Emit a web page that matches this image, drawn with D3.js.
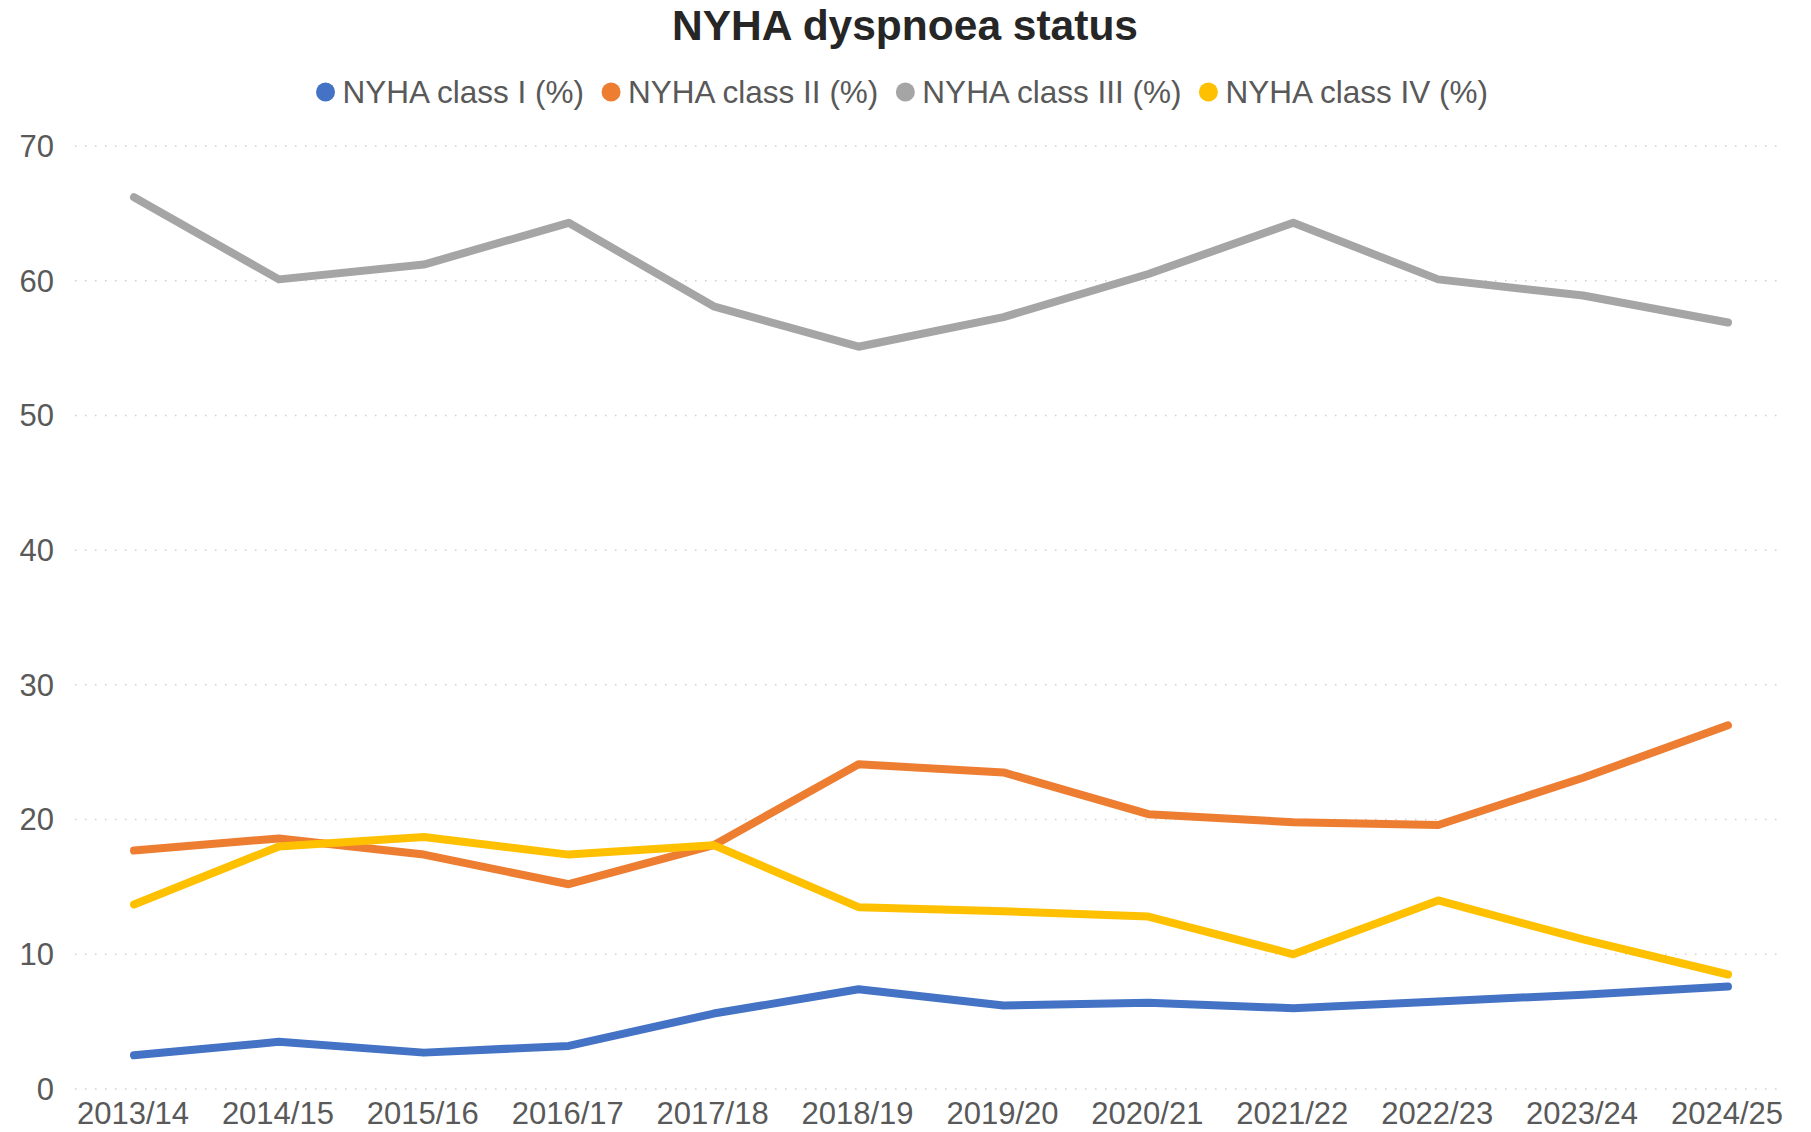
<!DOCTYPE html>
<html>
<head>
<meta charset="utf-8">
<script src="https://cdn.jsdelivr.net/npm/d3@7"></script>
<style>
  body { margin: 0; background: #fff; }
  text { font-family: Arial, "Liberation Sans", sans-serif; }
</style>
</head>
<body>
<svg></svg>
<script>
const size = {w: 1811, h: 1132};
const svg = d3.select('svg').attr('width', size.w).attr('height', size.h);

// chart values
const years = ['2013/14', '2014/15', '2015/16', '2016/17', '2017/18', '2018/19',
               '2019/20', '2020/21', '2021/22', '2022/23', '2023/24', '2024/25'];
const classI   = [2.5, 3.5, 2.7, 3.2, 5.6, 7.4, 6.2, 6.4, 6.0, 6.5, 7.0, 7.6];
const classII  = [17.7, 18.6, 17.4, 15.2, 18.1, 24.1, 23.5, 20.4, 19.8, 19.6, 23.1, 27.0];
const classIII = [66.2, 60.1, 61.2, 64.3, 58.1, 55.1, 57.3, 60.5, 64.3, 60.1, 58.9, 56.9];
const classIV  = [13.7, 18.0, 18.7, 17.4, 18.1, 13.5, 13.2, 12.8, 10.0, 14.0, 11.1, 8.5];
const yTicks = [0, 10, 20, 30, 40, 50, 60, 70];

const seriesNames = ['NYHA class I (%)', 'NYHA class II (%)', 'NYHA class III (%)', 'NYHA class IV (%)'];
const seriesColors = ['#4472C4', '#ED7D31', '#A5A5A5', '#FFC000'];
const series = [classI, classII, classIII, classIV].map((vals, i) => ({
    name: seriesNames[i], color: seriesColors[i], values: vals
}));

// plot area
const plot = {l: 75, r: 1777, t: 146, b: 1089};

const x = d3.scalePoint()
    .domain(years)
    .range([134, 1728]);

const y = d3.scaleLinear()
    .domain([0, 70])
    .range([plot.b, plot.t]);

// gridlines
svg.append('g').classed('grid', true)
    .selectAll('line')
    .data(yTicks)
    .join('line')
    .attr('x1', plot.l)
    .attr('x2', plot.r)
    .attr('y1', d => y(d))
    .attr('y2', d => y(d))
    .attr('stroke', '#d0d0d0')
    .attr('stroke-width', 1.5)
    .attr('stroke-dasharray', '1.5,8.5');

// y axis labels
svg.append('g').classed('y-axis', true)
    .selectAll('text')
    .data(yTicks)
    .join('text')
    .attr('x', 54)
    .attr('y', d => y(d))
    .attr('dy', '0.35em')
    .attr('text-anchor', 'end')
    .attr('font-size', 31)
    .attr('fill', '#595959')
    .text(d => d);

// x axis labels
svg.append('g').classed('x-axis', true)
    .selectAll('text')
    .data(years)
    .join('text')
    .attr('x', d => x(d) - 1)
    .attr('y', 1124)
    .attr('text-anchor', 'middle')
    .attr('font-size', 31)
    .attr('fill', '#595959')
    .text(d => d);

// lines
const line = d3.line()
    .x((d, i) => x(years[i]))
    .y(d => y(d));

svg.append('g').classed('lines', true)
    .selectAll('path')
    .data(series)
    .join('path')
    .attr('d', d => line(d.values))
    .attr('fill', 'none')
    .attr('stroke', d => d.color)
    .attr('stroke-width', 8)
    .attr('stroke-linejoin', 'round')
    .attr('stroke-linecap', 'round');

// title
svg.append('text')
    .attr('x', 905)
    .attr('y', 40)
    .attr('text-anchor', 'middle')
    .attr('font-size', 42.5)
    .attr('font-weight', 'bold')
    .attr('fill', '#262626')
    .text('NYHA dyspnoea status');

// legend, laid out from measured text widths
const legendG = svg.append('g').classed('legend', true);
const items = legendG.selectAll('g')
    .data(series)
    .join('g');
items.append('circle')
    .attr('r', 9.5)
    .attr('fill', d => d.color);
items.append('text')
    .attr('x', 17)
    .attr('dy', '0.35em')
    .attr('font-size', 31.5)
    .attr('fill', '#595959')
    .text(d => d.name);

let offset = 0;
const positions = [];
items.each(function() {
    const w = d3.select(this).select('text').node().getComputedTextLength();
    positions.push(offset);
    offset += 17 + w + 27;
});
const totalW = offset - 27 + 9.5;
const startX = 902 - totalW / 2 + 9.5;
items.attr('transform', (d, i) => `translate(${startX + positions[i]}, 92)`);
</script>
</body>
</html>
